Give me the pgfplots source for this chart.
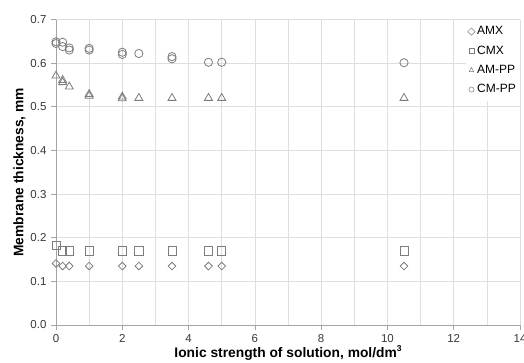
\documentclass[border=0pt]{standalone}
\usepackage{pgfplots}
\pgfplotsset{compat=1.18}
\usepackage{fontspec}
\setmainfont{Liberation Sans}
\definecolor{mk}{RGB}{125,125,125}
\definecolor{gridc}{RGB}{222,222,222}
\definecolor{axc}{RGB}{165,165,165}
\definecolor{txt}{RGB}{55,55,55}
\begin{document}
\begin{tikzpicture}
\begin{axis}[
  name=ax,
  scale only axis,
  width=464pt, height=305.5pt,
  xmin=0, xmax=14, ymin=0, ymax=0.7,
  xtick={0,2,...,14}, minor xtick={1,3,...,13},
  ytick={0,0.1,...,0.7},
  yticklabel style={/pgf/number format/fixed,/pgf/number format/fixed zerofill,/pgf/number format/precision=1, xshift=-1pt},
  xticklabel style={yshift=-1pt},
  /pgf/number format/assume math mode=true,
  tick label style={font=\fontsize{11.5}{13}\selectfont, text=txt},
  xmajorgrids, xminorgrids, ymajorgrids,
  grid style={gridc, line width=0.7pt},
  minor grid style={gridc, line width=0.7pt},
  axis lines*=left,
  axis line style={axc, line width=0.7pt},
  tick style={axc, line width=0.7pt},
  minor tick length=0pt,
  major tick length=5pt,
  tick align=outside,
  xlabel={\bfseries Ionic strength of solution, mol/dm\raisebox{0.42em}{\fontsize{8.5}{9}\selectfont\bfseries 3}},
  ylabel={\bfseries Membrane thickness, mm},
  label style={font=\fontsize{13.8}{15}\selectfont, text=black},
  xlabel style={yshift=4pt},
  ylabel style={yshift=-2pt},
  legend style={at={(rel axis cs:1,1)}, anchor=north east, draw=none, fill=white,
    font=\fontsize{12}{13}\selectfont, row sep=5.5pt, inner xsep=2pt, inner ysep=5pt,
    legend cell align=left, text=black},
  legend image code/.code={\draw[mark size=2.6pt,line width=0.5pt,#1] plot coordinates {(0.12cm,0cm)};},
  every axis plot/.append style={only marks, mk, line width=0.8pt},
]
\addplot[mark=square, mark options={rotate=45}, mark size=2.7pt] coordinates {
(0,0.141) (0.2,0.135) (0.4,0.135) (1,0.135) (2,0.135) (2.5,0.135) (3.5,0.135) (4.6,0.135) (5,0.135) (10.5,0.135)};
\addlegendentry{AMX}
\addplot[mark=square, mark size=4.1pt] coordinates {
(0,0.183) (0.2,0.17) (0.4,0.17) (1,0.17) (2,0.17) (2.5,0.17) (3.5,0.17) (4.6,0.17) (5,0.17) (10.5,0.17)};
\addlegendentry{CMX}
\addplot[mark=triangle, mark size=4.6pt] coordinates {
(0,0.571) (0.2,0.561) (0.2,0.556) (0.4,0.546) (1,0.529) (1,0.525) (2,0.523) (2,0.519) (2.5,0.52) (3.5,0.52) (4.6,0.52) (5,0.52) (10.5,0.52)};
\addlegendentry{AM-PP}
\addplot[mark=o, mark size=4.1pt] coordinates {
(0,0.649) (0,0.645) (0.2,0.648) (0.2,0.638) (0.4,0.635) (0.4,0.63) (1,0.634) (1,0.63) (2,0.625) (2,0.62) (2.5,0.622) (3.5,0.615) (3.5,0.61) (4.6,0.602) (5,0.602) (10.5,0.601)};
\addlegendentry{CM-PP}
\end{axis}
\pgfresetboundingbox
\path[use as bounding box] ([xshift=-56pt,yshift=-38pt]ax.south west) rectangle ([xshift=4pt,yshift=19.5pt]ax.north east);
\end{tikzpicture}
\end{document}
